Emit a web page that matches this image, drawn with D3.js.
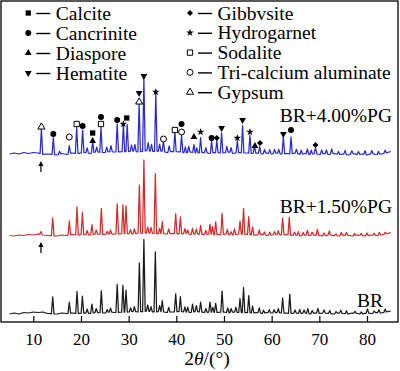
<!DOCTYPE html>
<html>
<head>
<meta charset="utf-8">
<script src="https://cdn.jsdelivr.net/npm/d3@7"></script>
<style>
  body { margin: 0; background: #fff; }
  svg { display: block; }
</style>
</head>
<body>
<div id="chart"></div>
<script>
// XRD patterns, 2theta (deg) vs intensity (a.u.)
const ticks = [10, 20, 30, 40, 50, 60, 70, 80];

// background lines [2theta, intensity]
const bgBR = [[5,0],[6,1],[7,0],[8,1.5],[9,1],[10,2],[11,1.5],[12,2],[13,0.5],[15,0],[16,1],[17,0.5],[18,1],[19,0.5],[21,1],[22,0.5],[23,1.5],[25,1],[26,2],[27,1.5],[30,2],[31,2.5],[32,2],[34,3],[35,2],[37,2.5],[38,1.5],[39,2],[41,2.5],[42,2],[43,1.5],[44,2.5],[46,1.5],[47,2],[48,1.5],[50,2],[51,1],[52,2],[53,1.5],[55,1.5],[56,1],[57,1.5],[58,0.5],[59,1.5],[60,1],[61,1.5],[62,1],[63,1],[64,0.5],[65,1],[66,0.5],[67,1],[68,0],[69,1],[70,0.5],[71,1],[72,0.5],[73,0],[74,1],[75,0.5],[76,0],[77,1],[78,0.5],[79,0],[80,1],[81,0.5],[82,1.5],[83,1],[84,2],[85,3]];
const bgPG15 = [[5,0.5],[6,0],[7,1],[8,0.5],[9,1.5],[10,1],[11,2],[12,1],[13,0.5],[15,0],[16,1],[17,0.5],[18,1.5],[19,1],[21,1.5],[22,1],[23,2],[25,1.5],[26,2],[27,2],[30,2.5],[31,2],[32,3],[34,3],[35,2.5],[37,2.5],[38,2],[39,2.5],[41,2],[42,2.5],[43,1.5],[44,2],[46,1.5],[47,2],[48,1],[50,2],[51,1.5],[52,1],[53,2],[55,1.5],[56,1],[57,1],[58,1.5],[59,0.5],[60,1],[61,1.5],[62,1],[63,1.5],[64,0.5],[65,1],[66,0],[67,1],[68,0.5],[69,1],[70,0.5],[71,0],[72,1],[73,0.5],[74,0],[75,1],[76,0.5],[77,0],[78,1],[79,0.5],[80,0],[81,1],[82,0.5],[83,1],[84,2],[85,3.5]];
const bgPG40 = [[5,1],[6,2],[7,1],[8,2.5],[9,1.5],[10,2.5],[11,2],[12,0.5],[13,1],[15,0],[16,1.5],[17,0.5],[18,2],[19,1.5],[21,2.5],[22,1.5],[23,3],[25,2.5],[26,3.5],[27,3],[30,3.5],[31,4],[32,3],[34,4.5],[35,3.5],[37,4],[38,2.5],[39,3.5],[41,3],[42,2],[43,3],[44,2],[46,2.5],[47,1.5],[48,2.5],[50,2],[51,3],[52,1.5],[53,2.5],[55,2],[56,1.5],[57,2],[58,1],[59,2],[60,1],[61,2],[62,1],[63,1.5],[64,1],[65,2],[66,0.5],[67,1.5],[68,0.5],[69,1.5],[70,0.5],[71,1.5],[72,0.5],[73,1.5],[74,0.5],[75,1],[76,0],[77,1.5],[78,0.5],[79,1],[80,0],[81,1.5],[82,0.5],[83,1],[84,2],[85,3.5]];

// peaks [2theta, height above background]
const peaksBR = [[14.07,17],[17.55,11],[19.17,22],[20.3,17],[21.3,4],[22.3,9],[23.2,4],[24.27,22],[25.5,3],[26.2,4],[27.6,28],[28.8,27],[29.45,22],[30.4,4],[31.2,5],[32.25,49],[33.2,72],[34.0,6],[34.7,5],[35.6,60],[36.5,6],[37.06,11],[38.4,5],[39.87,18],[40.85,15],[41.8,5],[42.4,5],[43.4,8],[44.2,6],[45.1,10],[46.2,4],[47.07,10],[47.65,5],[48.26,9],[49.6,21],[50.8,5],[51.5,4],[52.5,5],[53.36,14],[54.1,25],[55.2,17],[56.0,7],[57.4,5],[58.3,3],[59.5,3],[60.5,3],[61.4,4],[62.3,15],[63.8,19],[64.9,3],[65.9,4],[66.8,3],[67.6,5],[68.5,3],[69.7,5],[71.0,3],[72.2,3],[73.5,2],[74.5,3],[75.7,3],[77.5,2],[78.8,2],[80.1,4],[81.5,2],[82.5,3],[83.8,3]];
const peaksPG15 = [[11.6,3],[14.07,18],[17.55,14],[19.17,28],[20.3,22],[21.3,4],[22.3,10],[23.2,4],[24.27,26],[25.5,3],[26.2,4],[27.6,30],[28.8,29],[29.45,28],[30.4,4],[31.2,5],[32.25,48],[33.2,73],[34.0,6],[34.7,6],[35.6,60],[36.5,5],[37.06,12],[38.4,5],[39.87,20],[40.85,17],[41.8,5],[42.4,4],[43.4,6],[44.2,5],[45.1,9],[46.2,4],[47.07,10],[47.6,8],[48.26,13],[49.6,21],[50.7,5],[51.5,3],[52.2,6],[53.36,13],[54.1,26],[55.2,18],[56.0,8],[57.4,5],[58.5,3],[59.6,3],[60.6,3],[61.4,4],[62.3,17],[63.7,18],[64.8,3],[65.6,4],[66.6,3],[67.5,5],[68.5,3],[69.6,6],[71.0,3],[72.1,4],[73.5,2],[74.6,3],[75.7,3],[77.4,2],[78.8,2],[80.0,3],[81.5,2],[82.6,3],[83.8,2]];
const peaksPG40 = [[11.7,25],[14.2,17],[15.5,3],[17.55,8],[19.1,26],[20.35,23],[21.3,5],[22.45,12],[23.3,5],[24.2,25],[25.4,5],[26.3,6],[27.6,28],[28.9,28],[29.7,27],[30.6,6],[31.3,7],[32.2,48],[33.2,72],[34.1,8],[34.8,7],[35.7,58],[36.5,7],[37.3,10],[38.5,6],[39.7,20],[41.1,17],[41.9,6],[42.6,6],[43.7,8],[44.3,5],[45.1,15],[46.2,5],[47.4,12],[48.5,12],[49.5,20],[50.6,6],[51.5,5],[52.8,12],[53.9,27],[55.45,18],[56.4,8],[57.5,7],[58.5,4],[59.6,4],[60.6,4],[61.5,4],[62.45,17],[64.06,17],[65.2,4],[66.2,4],[67.5,5],[68.3,4],[69.2,6],[70.5,4],[71.5,4],[72.6,5],[74.0,3],[75.4,4],[76.8,3],[78.2,3],[79.6,4],[81.0,3],[82.4,3],[83.8,3]];

const seriesNames = ["BR", "BR+1.50%PG", "BR+4.00%PG"];
const seriesOffsets = [8, 86, 167];   // vertical stacking of the patterns
const seriesColors = ["#1a1a1a", "#d42a2a", "#2a2ad0"];

// phases in the legend
const phaseKeys  = ["calcite", "cancrinite", "diaspore", "hematite", "gibbsite", "hydrogarnet", "sodalite", "tca", "gypsum"];
const phaseNames = ["Calcite", "Cancrinite", "Diaspore", "Hematite", "Gibbvsite", "Hydrogarnet", "Sodalite", "Tri-calcium aluminate", "Gypsum"];

// phase marks above the 4.00%PG pattern [phase, 2theta, intensity above its baseline]
const marks = [
  ["gypsum",11.7,28],["cancrinite",14.2,21],["tca",17.55,18],["sodalite",19.1,31],["cancrinite",20.35,29],
  ["diaspore",22.45,14],["calcite",22.45,22],["sodalite",24.2,31],["cancrinite",24.2,38],["cancrinite",27.6,35],
  ["hydrogarnet",28.9,31],["calcite",29.6,37],["hematite",32.2,62],["gypsum",32.2,53],["hematite",33.2,79],
  ["hydrogarnet",35.7,63],["tca",37.3,16],["sodalite",39.7,25],["cancrinite",41.1,31],["tca",41.1,23],
  ["diaspore",43.7,18],["hydrogarnet",45.1,23],["cancrinite",47.4,17],["gibbsite",48.5,17],["hematite",49.5,27],
  ["hydrogarnet",52.8,17],["hematite",53.9,35],["hydrogarnet",55.45,23],["diaspore",56.5,9],["gibbsite",57.55,12],
  ["hematite",62.45,21],["cancrinite",64.06,25],["gibbsite",69.2,10]
];

// gypsum arrows under the PG patterns [series index, 2theta]
const arrows = [[2, 11.6], [1, 11.6]];

const width = 400, height = 371;
const x = d3.scaleLinear().domain([10, 80]).range([33.3, 367]);
const y = d3.scaleLinear().domain([0, 320]).range([322, 2]);
const font = "'Liberation Serif', 'Times New Roman', serif";

const symbols = {
  calcite:     { type: d3.symbolSquare,   size: 28, fill: true,  rot: 0 },
  cancrinite:  { type: d3.symbolCircle,   size: 28, fill: true,  rot: 0 },
  diaspore:    { type: d3.symbolTriangle, size: 20, fill: true,  rot: 0 },
  hematite:    { type: d3.symbolTriangle, size: 20, fill: true,  rot: 180 },
  gibbsite:    { type: d3.symbolSquare,   size: 18, fill: true,  rot: 45 },
  hydrogarnet: { type: d3.symbolStar,     size: 18, fill: true,  rot: 0 },
  sodalite:    { type: d3.symbolSquare,   size: 28, fill: false, rot: 0 },
  tca:         { type: d3.symbolCircle,   size: 28, fill: false, rot: 0 },
  gypsum:      { type: d3.symbolTriangle, size: 22, fill: false, rot: 0 }
};

function drawSymbol(g, key, cx, cy) {
  const s = symbols[key];
  g.append("path")
    .attr("d", d3.symbol().type(s.type).size(s.size)())
    .attr("transform", "translate(" + cx + "," + cy + ") rotate(" + s.rot + ")")
    .attr("fill", s.fill ? "#000" : "#fff")
    .attr("stroke", "#000")
    .attr("stroke-width", s.fill ? 0 : 1);
}

// background + sharp peaks -> one line per pattern
function tracePoints(bg, peaks) {
  const w = 0.27;
  const bgAt = d3.scaleLinear().domain(bg.map(d => d[0])).range(bg.map(d => d[1]));
  const pts = bg.filter(d => !peaks.some(p => Math.abs(p[0] - d[0]) < w + 0.05)).map(d => [d[0], d[1]]);
  peaks.forEach(([p, h]) => {
    pts.push([p - w, bgAt(p - w)], [p, bgAt(p) + h], [p + w, bgAt(p + w)]);
  });
  return pts.sort((a, b) => a[0] - b[0]);
}

const svg = d3.select("#chart").append("svg")
  .attr("width", width)
  .attr("height", height);

const patterns = [[bgBR, peaksBR], [bgPG15, peaksPG15], [bgPG40, peaksPG40]];

patterns.forEach(([bg, peaks], i) => {
  const line = d3.line()
    .x(d => x(d[0]))
    .y(d => y(d[1] + seriesOffsets[i]));
  svg.append("path").datum(tracePoints(bg, peaks))
    .attr("fill", "none")
    .attr("stroke", seriesColors[i])
    .attr("stroke-width", 1.25)
    .attr("stroke-linejoin", "round")
    .attr("d", line);
});

// pattern labels
const labelPos = [[383, 307], [392, 213], [392, 122]];
seriesNames.forEach((name, i) => {
  svg.append("text")
    .attr("x", labelPos[i][0]).attr("y", labelPos[i][1])
    .attr("text-anchor", "end")
    .attr("font-family", font).attr("font-size", 19.5)
    .text(name);
});

// phase marks
const markG = svg.append("g");
marks.forEach(([key, pos, v]) => drawSymbol(markG, key, x(pos), y(v + seriesOffsets[2])));

// arrows
arrows.forEach(([si, pos]) => {
  const tip = y(seriesOffsets[si] - 6);
  svg.append("line")
    .attr("x1", x(pos)).attr("x2", x(pos))
    .attr("y1", tip + 3).attr("y2", tip + 11)
    .attr("stroke", "#000").attr("stroke-width", 1.2);
  svg.append("path")
    .attr("d", "M" + x(pos) + "," + tip + "l-2.5,5h5z")
    .attr("fill", "#000");
});

// legend
const legend = svg.append("g");
phaseKeys.forEach((key, i) => {
  const left = i < 4;
  const row = left ? i : i - 4;
  const mx = left ? 28.3 : 190;
  const cy = left ? 13 + row * 20 : 13 + row * 19.8;
  drawSymbol(legend, key, mx, cy);
  legend.append("line")
    .attr("x1", mx + 8).attr("x2", mx + 22)
    .attr("y1", cy + 0.5).attr("y2", cy + 0.5)
    .attr("stroke", "#000").attr("stroke-width", 1.4);
  legend.append("text")
    .attr("x", mx + 27.5).attr("y", cy + 6.5)
    .attr("font-family", font).attr("font-size", 19.5)
    .text(phaseNames[i]);
});

// frame
svg.append("rect")
  .attr("x", 1).attr("y", 1)
  .attr("width", 397).attr("height", 321)
  .attr("fill", "none")
  .attr("stroke", "#000")
  .attr("stroke-width", 1.3);

// x axis, ticks pointing inward
const xAxis = svg.append("g")
  .attr("transform", "translate(0," + y(0) + ")")
  .call(d3.axisBottom(x).tickValues(ticks).tickSize(-6).tickPadding(11).tickFormat(d3.format("d")));
xAxis.select(".domain").remove();
xAxis.selectAll(".tick line").attr("stroke", "#000").attr("stroke-width", 1.2);
xAxis.selectAll(".tick text")
  .attr("font-family", font).attr("font-size", 17).attr("fill", "#000");

const title = svg.append("text")
  .attr("x", 207).attr("y", 365)
  .attr("text-anchor", "middle")
  .attr("font-family", font).attr("font-size", 19.5);
title.append("tspan").text("2");
title.append("tspan").attr("font-style", "italic").text("θ");
title.append("tspan").text("/(°)");
</script>
</body>
</html>
